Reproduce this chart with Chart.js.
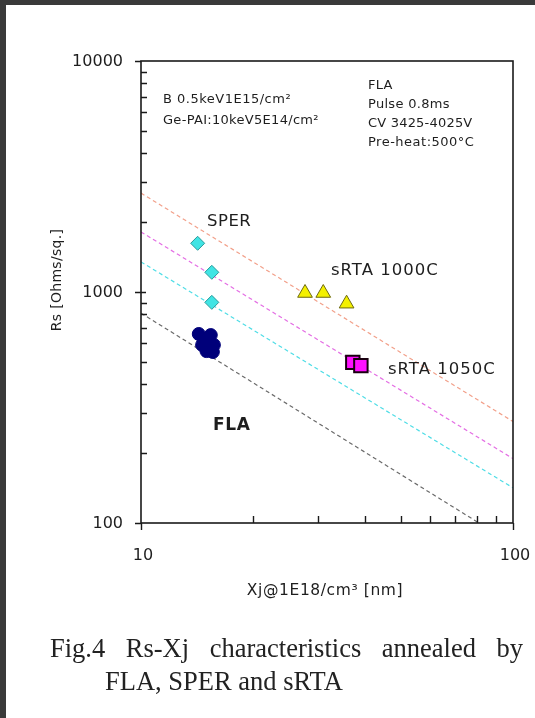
<!DOCTYPE html>
<html>
<head>
<meta charset="utf-8">
<title>Rs-Xj characteristics</title>
<script src="https://cdn.jsdelivr.net/npm/chart.js@4.4.0/dist/chart.umd.min.js"></script>
<style>
  html, body { margin: 0; padding: 0; background: #fff; }
  canvas { display: block; }
</style>
</head>
<body>
<canvas id="rsxj-chart" width="535" height="718"></canvas>
<script>
// Sheet resistance (Ohms/sq.) vs junction depth Xj (nm)
const sperXj = [14.2, 15.5, 15.5];
const sperRs = [1625, 1217, 902];

const rta1000Xj = [27.6, 30.9, 35.7];
const rta1000Rs = [990, 990, 890];

const rta1050Xj = [37.1, 39.0];
const rta1050Rs = [496, 480];

const flaXj = [14.3, 15.4, 15.7, 14.6, 15.0, 15.6, 15.0];
const flaRs = [658, 651, 590, 590, 555, 550, 620];

// dashed guide lines, Rs read at Xj = 10 and Xj = 100
const guideXj = [10, 100];
const guideOrange = [2680, 275];
const guidePink = [1820, 190];
const guideCyan = [1350, 142];
const guideGray = [810, 81];

// axis ticks
const xTickValues = [10, 100];
const xTickLabels = ['10', '100'];
const yTickValues = [100, 1000, 10000];
const yTickLabels = ['100', '1000', '10000'];

function toPoints(xs, ys) {
    return xs.map((x, i) => ({ x: x, y: ys[i] }));
}

function guide(values, color) {
    return {
        data: toPoints(guideXj, values),
        showLine: true,
        borderColor: color,
        borderWidth: 1.2,
        borderDash: [4, 3],
        pointRadius: 0,
        fill: false
    };
}

// draw text with optional letter spacing
function drawText(ctx, str, x, y, font, align, spacing) {
    ctx.save();
    ctx.font = font;
    ctx.textAlign = align || 'left';
    ctx.textBaseline = 'middle';
    ctx.letterSpacing = (spacing || 0) + 'px';
    ctx.fillText(str, x, y);
    ctx.restore();
}

const decorPlugin = {
    id: 'decor',
    beforeDraw(chart) {
        const ctx = chart.ctx;
        ctx.save();
        ctx.fillStyle = '#ffffff';
        ctx.fillRect(0, 0, chart.width, chart.height);
        ctx.fillStyle = '#3a3a3a';
        ctx.fillRect(0, 0, chart.width, 5);
        ctx.fillRect(0, 0, 6, chart.height);
        ctx.restore();
    },
    afterDatasetsDraw(chart) {
        const ctx = chart.ctx;
        const area = chart.chartArea;
        const xs = chart.scales.x;
        const ys = chart.scales.y;

        ctx.save();
        ctx.strokeStyle = '#1a1a1a';
        ctx.lineWidth = 1.6;
        ctx.strokeRect(area.left, area.top, area.right - area.left, area.bottom - area.top);

        // y ticks: majors cross the axis, minors point inward
        ctx.lineWidth = 1.4;
        ctx.beginPath();
        for (let d = 100; d < 10000; d *= 10) {
            for (let m = 2; m <= 9; m++) {
                const py = Math.round(ys.getPixelForValue(d * m)) + 0.5;
                ctx.moveTo(area.left, py);
                ctx.lineTo(area.left + 6, py);
            }
        }
        yTickValues.forEach(v => {
            const py = Math.round(ys.getPixelForValue(v)) + 0.5;
            ctx.moveTo(area.left - 6, py);
            ctx.lineTo(area.left + (v === 1000 ? 5 : 0), py);
        });
        // x ticks: minors point up, majors point down
        for (let m = 2; m <= 9; m++) {
            const px = Math.round(xs.getPixelForValue(10 * m)) + 0.5;
            ctx.moveTo(px, area.bottom);
            ctx.lineTo(px, area.bottom - 7);
        }
        xTickValues.forEach(v => {
            const px = Math.round(xs.getPixelForValue(v)) + 0.5;
            ctx.moveTo(px, area.bottom);
            ctx.lineTo(px, area.bottom + 7);
        });
        ctx.stroke();
        ctx.restore();

        ctx.fillStyle = '#1e1e1e';
        const tickFont = '16px "DejaVu Sans"';
        yTickValues.forEach((v, i) => {
            drawText(ctx, yTickLabels[i], area.left - 18, ys.getPixelForValue(v) + 1, tickFont, 'right');
        });
        xTickValues.forEach((v, i) => {
            drawText(ctx, xTickLabels[i], xs.getPixelForValue(v) + 2, area.bottom + 33, tickFont, 'center');
        });

        // axis titles
        drawText(ctx, 'Xj@1E18/cm³ [nm]', 325, 591, '15.5px "DejaVu Sans"', 'center', 0.6);
        ctx.save();
        ctx.translate(57, 280);
        ctx.rotate(-Math.PI / 2);
        drawText(ctx, 'Rs [Ohms/sq.]', 0, 0, '14px "DejaVu Sans"', 'center', 0.3);
        ctx.restore();

        // process conditions
        const noteFont = '13px "DejaVu Sans"';
        drawText(ctx, 'B 0.5keV1E15/cm²', 163, 100, noteFont, 'left', 0.5);
        drawText(ctx, 'Ge-PAI:10keV5E14/cm²', 163, 121, noteFont, 'left', 0.3);
        drawText(ctx, 'FLA', 368, 86, noteFont, 'left', 0.3);
        drawText(ctx, 'Pulse 0.8ms', 368, 105, noteFont, 'left', 0.3);
        drawText(ctx, 'CV 3425-4025V', 368, 124, noteFont, 'left', 0.2);
        drawText(ctx, 'Pre-heat:500°C', 368, 143, noteFont, 'left', 0.5);

        // series labels
        const labelFont = '16.5px "DejaVu Sans"';
        drawText(ctx, 'SPER', 207, 222, labelFont, 'left', 0.5);
        drawText(ctx, 'sRTA 1000C', 331, 271, labelFont, 'left', 1);
        drawText(ctx, 'sRTA 1050C', 388, 370, labelFont, 'left', 1);
        drawText(ctx, 'FLA', 213, 426, 'bold 17px "DejaVu Sans"', 'left', 0.6);

        // figure caption, first line justified
        ctx.fillStyle = '#222222';
        const capFont = '26.5px "Liberation Serif"';
        const words = ['Fig.4', 'Rs-Xj', 'characteristics', 'annealed', 'by'];
        ctx.save();
        ctx.font = capFont;
        const widths = words.map(w => ctx.measureText(w).width);
        ctx.restore();
        const gap = (523 - 50 - widths.reduce((a, b) => a + b, 0)) / (words.length - 1);
        let cx = 50;
        words.forEach((w, i) => {
            drawText(ctx, w, cx, 650, capFont, 'left');
            cx += widths[i] + gap;
        });
        drawText(ctx, 'FLA, SPER and sRTA', 105, 683, capFont, 'left');
    }
};

const ctx = document.getElementById('rsxj-chart').getContext('2d');
new Chart(ctx, {
    type: 'scatter',
    data: {
        datasets: [
            {
                label: 'sRTA 1050C',
                data: toPoints(rta1050Xj, rta1050Rs),
                pointStyle: 'rect',
                pointRadius: 9.5,
                backgroundColor: '#ff10ff',
                borderColor: '#1a0010',
                borderWidth: 2
            },
            {
                label: 'sRTA 1000C',
                data: toPoints(rta1000Xj, rta1000Rs),
                pointStyle: 'triangle',
                pointRadius: 8.5,
                backgroundColor: '#f4f000',
                borderColor: '#6e6a10',
                borderWidth: 1
            },
            {
                label: 'SPER',
                data: toPoints(sperXj, sperRs),
                pointStyle: 'rectRot',
                pointRadius: 7,
                backgroundColor: '#40e4e4',
                borderColor: '#2a9a9a',
                borderWidth: 1
            },
            {
                label: 'FLA',
                data: toPoints(flaXj, flaRs),
                pointStyle: 'circle',
                pointRadius: 6.5,
                backgroundColor: '#00007a',
                borderColor: '#00007a',
                borderWidth: 1
            },
            guide(guideOrange, '#f2a08a'),
            guide(guidePink, '#e46ee4'),
            guide(guideCyan, '#4fdde6'),
            guide(guideGray, '#6a6a6a')
        ]
    },
    options: {
        responsive: false,
        animation: false,
        layout: { padding: { left: 141, top: 61, right: 22, bottom: 195 } },
        plugins: {
            legend: { display: false },
            tooltip: { enabled: false }
        },
        scales: {
            x: { type: 'logarithmic', min: 10, max: 100, display: false },
            y: { type: 'logarithmic', min: 100, max: 10000, display: false }
        }
    },
    plugins: [decorPlugin]
});
</script>
</body>
</html>
